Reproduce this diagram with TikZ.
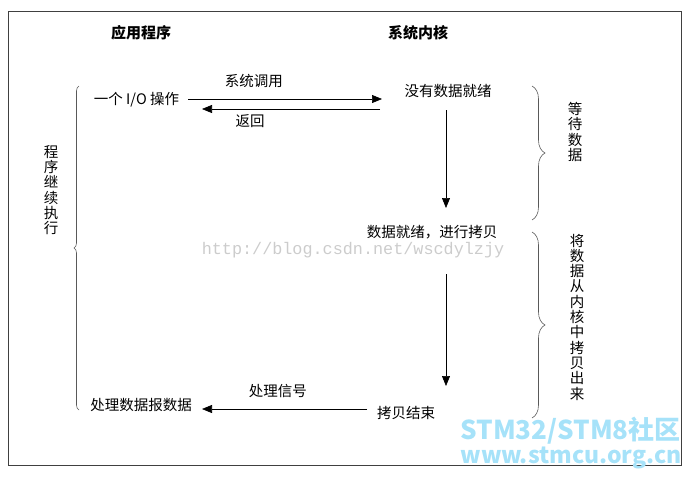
\documentclass[tikz,border=0pt]{standalone}
\usepackage{fontspec}
\setmainfont{Noto Sans CJK SC}
\newfontfamily\wmfont{Liberation Mono}
\usetikzlibrary{arrows.meta,decorations.pathreplacing,calc}
\begin{document}
\begin{tikzpicture}
	[
	x=1pt, y=-1pt,
	txt/.style={inner sep=2pt, font=\fontsize{14.5}{16}\selectfont},
	head/.style={inner sep=2pt, font=\fontsize{15}{16}\selectfont\bfseries},
	vtxt/.style={inner sep=2pt, align=center, font=\fontsize{14.5}{15.3}\selectfont},
	arr/.style={-{Triangle[length=10pt,width=8pt]}, line width=0.7pt},
	curly/.style={decorate, decoration={brace, amplitude=#1}, draw=black!65, line width=0.6pt},
	curly/.default=10pt,
	wmark/.style={inner sep=0pt, text=black!20, font=\wmfont\fontsize{16.8}{17}\selectfont},
	logo/.style={inner sep=0pt, text=cyan!35!white, font=\fontsize{#1}{#1}\selectfont\bfseries},
	logo/.default=25
	]
		\useasboundingbox (0,0) rectangle (688,477);
		% frame
		\draw [black!75, line width=0.8pt] (8,11) rectangle (681,465);

		% headings
		\node (app)  [head] at (141, 33) {应用程序};
		\node (kern) [head] at (418, 33) {系统内核};

		% left side
		\node (io)   [txt] at (136.5, 100) {一个 I/O 操作};
		\node (proc) [txt] at (141, 405) {处理数据报数据};
		\node (run)  [vtxt] at (51, 190) {程\\序\\继\\续\\执\\行};

		% kernel side
		\node (nodata) [txt] at (448, 91) {没有数据就绪};
		\node (ready)  [txt, inner sep=1pt] at (432, 232) {数据就绪，进行拷贝};
		\node (done)   [txt] at (406, 413) {拷贝结束};

		% right side
		\node (wait) [vtxt] at (575, 132) {等\\待\\数\\据};
		\node (copy) [vtxt] at (577, 317) {将\\数\\据\\从\\内\\核\\中\\拷\\贝\\出\\来};

		% watermarks
		\node (blog) [wmark, anchor=base] at (353, 254) {http://blog.csdn.net/wscdylzjy};
		\node (site) [logo=26, anchor=base east, text depth=0pt] at (681, 439) {STM32/STM8社区};
		\node (url)  [logo=23, anchor=base east, text height=14pt] at (682, 463) {www.stmcu.org.cn};

		% calls and returns
		\draw [arr] ($(io.center)+(51.5,-1)$) -- node [pos=0.34, above=8.5pt, txt] (call) {系统调用} ($(io.center -| nodata.center)+(-66,-1)$);
		\draw [arr] ($(io.center -| nodata.center)+(-68,9)$) -- node [pos=0.73, below=3.5pt, txt] (back) {返回} ($(io.center)+(65.5,9)$);
		\draw [arr] ($(nodata.center)+(-2,19)$) -- ($(nodata.center |- ready.center)+(-2,-24)$);
		\draw [arr] ($(nodata.center |- ready.center)+(-2,42)$) -- ($(nodata.center |- done.center)+(-2,-27)$);
		\draw [arr] ($(done.center)+(-39,-4)$) -- node [pos=0.54, above=8.5pt, txt] (sig) {处理信号} ($(done.center -| proc.center)+(61,-4)$);

		% braces
		\draw [curly=5pt] (79, 410) -- (79, 86);
		\draw [curly=13pt] (532, 86) -- (532, 220);
		\draw [curly=13pt] (532, 232) -- (532, 418);
	\end{tikzpicture}
\end{document}
